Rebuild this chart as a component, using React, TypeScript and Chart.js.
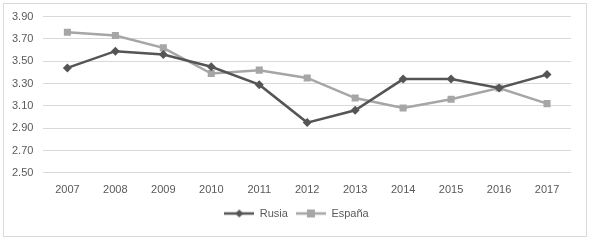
import React, { useEffect, useRef } from "react";
import { Chart, registerables } from "chart.js";

Chart.register(...registerables);

const years = ["2007", "2008", "2009", "2010", "2011", "2012", "2013", "2014", "2015", "2016", "2017"];
const rusia = [3.44, 3.59, 3.56, 3.45, 3.29, 2.95, 3.06, 3.34, 3.34, 3.26, 3.38];
const espana = [3.76, 3.73, 3.62, 3.39, 3.42, 3.35, 3.17, 3.08, 3.16, 3.26, 3.12];

const RUSIA_COLOR = "#555555";
const ESPANA_COLOR = "#a6a6a6";
const FONT = { family: "Liberation Sans", size: 11 };

function legendIcon(color: string, style: "diamond" | "square") {
  const c = document.createElement("canvas");
  c.width = 30;
  c.height = 10;
  const ctx = c.getContext("2d")!;
  ctx.strokeStyle = color;
  ctx.lineWidth = 2.5;
  ctx.beginPath();
  ctx.moveTo(0, 5);
  ctx.lineTo(30, 5);
  ctx.stroke();
  ctx.fillStyle = color;
  if (style === "diamond") {
    ctx.beginPath();
    ctx.moveTo(15, 1);
    ctx.lineTo(19, 5);
    ctx.lineTo(15, 9);
    ctx.lineTo(11, 5);
    ctx.closePath();
    ctx.fill();
  } else {
    ctx.fillRect(11, 1, 8, 8);
  }
  return c;
}

const legendShift = {
  id: "legendShift",
  afterLayout(chart: any) {
    const lg = chart.legend;
    if (lg) {
      lg.left += 10;
      lg.right += 10;
    }
  },
};

export default function App() {
  const ref = useRef<HTMLCanvasElement>(null);
  useEffect(() => {
    const iconR = legendIcon(RUSIA_COLOR, "diamond");
    const iconE = legendIcon(ESPANA_COLOR, "square");
    const chart = new Chart(ref.current!, {
      type: "line",
      data: {
        labels: years,
        datasets: [
          {
            label: "Rusia",
            data: rusia,
            borderColor: RUSIA_COLOR,
            backgroundColor: RUSIA_COLOR,
            borderWidth: 2.5,
            pointStyle: "rectRot",
            pointRadius: 4.5,
            pointBorderWidth: 0,
            tension: 0,
          },
          {
            label: "España",
            data: espana,
            borderColor: ESPANA_COLOR,
            backgroundColor: ESPANA_COLOR,
            borderWidth: 2.5,
            pointStyle: "rect",
            pointRadius: 5,
            pointBorderWidth: 0,
            tension: 0,
          },
        ],
      },
      plugins: [legendShift],
      options: {
        animation: false,
        responsive: false,
        devicePixelRatio: 1,
        layout: { padding: { left: 2, right: 19, top: 13, bottom: 12 } },
        plugins: {
          tooltip: { enabled: false },
          legend: {
            position: "bottom",
            labels: {
              usePointStyle: true,
              pointStyleWidth: 30,
              color: "#595959",
              font: FONT,
              boxWidth: 30,
              padding: 8,
              generateLabels: () => [
                { text: "Rusia", pointStyle: iconR, fillStyle: RUSIA_COLOR, strokeStyle: RUSIA_COLOR, lineWidth: 0, datasetIndex: 0, fontColor: "#595959" } as any,
                { text: "España", pointStyle: iconE, fillStyle: ESPANA_COLOR, strokeStyle: ESPANA_COLOR, lineWidth: 0, datasetIndex: 1, fontColor: "#595959" } as any,
              ],
            },
          },
        },
        scales: {
          x: {
            offset: true,
            grid: { display: false },
            border: { display: false },
            ticks: { color: "#595959", font: FONT, padding: 3 },
          },
          y: {
            min: 2.5,
            max: 3.9,
            grid: { color: "#d9d9d9", drawTicks: false },
            border: { display: false },
            ticks: {
              stepSize: 0.2,
              color: "#595959",
              padding: 10,
              font: FONT,
              callback: (v: any) => Number(v).toFixed(2),
            },
          },
        },
      },
    });
    return () => chart.destroy();
  }, []);
  return (
    <div style={{ position: "fixed", left: 0, top: 0, width: 590, height: 241, background: "#fff" }}>
      <div style={{ position: "absolute", left: 3, top: 3, width: 582, height: 232, border: "1px solid #d9d9d9" }} />
      <canvas ref={ref} width={590} height={241} style={{ position: "absolute", left: 0, top: 0 }} />
    </div>
  );
}
